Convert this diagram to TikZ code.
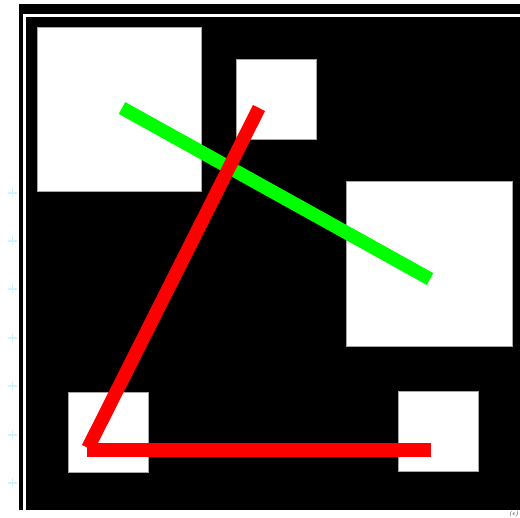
\documentclass[tikz,border=0pt]{standalone}
\begin{document}
\begin{tikzpicture}[x=1pt, y=-1pt,
    obstacle/.style={fill=white, draw=gray!70, line width=0.6pt},
    route/.style={line width=13.5pt, line cap=butt}]
    \useasboundingbox (0,0) rectangle (520,518);
    \fill[white] (0,0) rectangle (520,518);

    % faint marks at the left
    \foreach \y in {193,241,289,338,386,435,483}
        \draw[blue!20!cyan!20!white, line width=1.2pt] (8,\y) -- (17,\y) (12.5,\y-4.5) -- (12.5,\y+4.5);

    % frame
    \fill[black] (19,4) rectangle (520,510);
    \draw[white, line width=2.5pt] (24.5,514) -- (24.5,15.5) -- (520,15.5);

    % obstacles
    \draw[obstacle] (37,27) rectangle (201,191);
    \draw[obstacle] (236,59) rectangle (316,139);
    \draw[obstacle] (346,181) rectangle (512,346);
    \draw[obstacle] (68,392) rectangle (148,472);
    \draw[obstacle] (398,391) rectangle (478,471);

    % end points
    \coordinate (gstart) at (122,108);
    \coordinate (gend) at (430,279);
    \coordinate (rtop) at (259,108);
    \coordinate (rcorner) at (88,448);
    \coordinate (rleft) at (87,450);
    \coordinate (rend) at (431,450);

    % green route
    \draw[green, route] (gstart) -- (gend);

    % red route
    \draw[red, route] (rtop) -- (rcorner);
    \draw[red, route] (rleft) -- (rend);

    % caption
    \node[anchor=south east, font=\fontsize{6}{6}\selectfont\itshape, inner sep=0.5pt] (cap) at (519,517.5) {(c)};
\end{tikzpicture}
\end{document}
